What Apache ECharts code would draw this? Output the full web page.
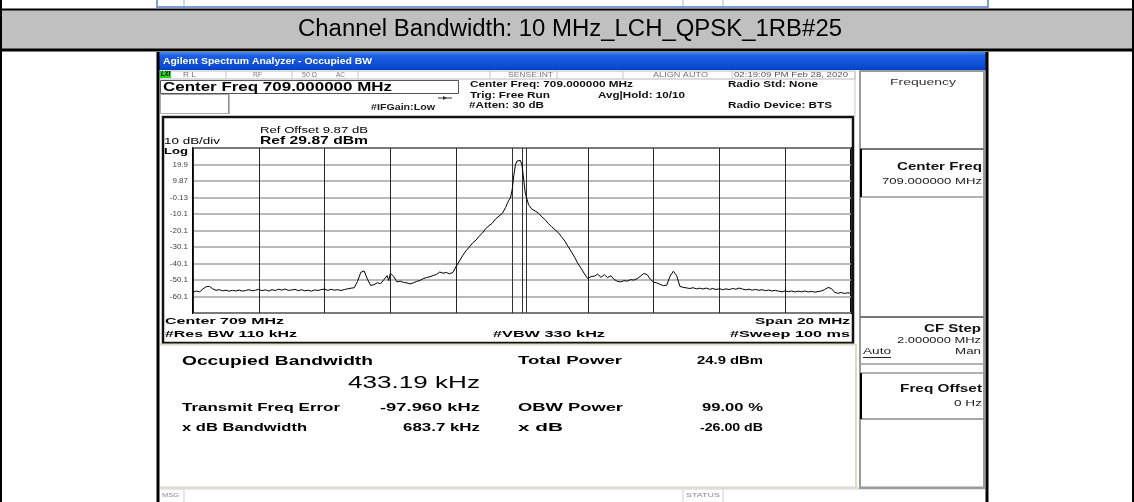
<!DOCTYPE html>
<html><head><meta charset="utf-8">
<script src="https://cdn.jsdelivr.net/npm/echarts@6/dist/echarts.min.js"></script>
<style>html,body{margin:0;padding:0;background:#fff}#c{width:1134px;height:502px}</style>
</head><body><div id="c"></div>
<script>
// ---------- data ----------
const freqMHz = [
699.0,699.1,699.2,699.3,699.4,699.5,699.6,699.7,699.8,699.9,
700.0,700.1,700.2,700.3,700.4,700.5,700.6,700.7,700.8,700.9,
701.0,701.1,701.2,701.3,701.4,701.5,701.6,701.7,701.8,701.9,
702.0,702.1,702.2,702.3,702.4,702.5,702.6,702.7,702.8,702.9,
703.0,703.1,703.2,703.3,703.4,703.5,703.6,703.7,703.8,703.9,
704.0,704.1,704.2,704.3,704.4,704.5,704.6,704.7,704.8,704.9,704.95,
705.0,705.05,705.1,705.2,705.3,705.4,705.5,705.6,705.7,705.8,705.9,
706.0,706.1,706.2,706.3,706.4,706.5,706.6,706.7,706.8,706.9,
707.0,707.1,707.2,707.3,707.4,707.5,707.6,707.7,707.8,707.9,
708.0,708.1,708.2,708.3,708.4,708.5,708.55,708.6,708.65,708.7,708.75,708.8,708.85,708.9,708.95,
709.0,709.05,709.1,709.15,709.2,709.3,709.4,709.5,709.6,709.7,709.8,709.9,
710.0,710.1,710.2,710.3,710.4,710.5,710.6,710.7,710.8,710.9,
711.0,711.1,711.2,711.3,711.4,711.5,711.6,711.7,711.8,711.9,
712.0,712.1,712.2,712.3,712.4,712.5,712.6,712.7,712.8,712.9,
713.0,713.1,713.2,713.3,713.4,713.5,713.6,713.7,713.8,713.9,
714.0,714.1,714.2,714.3,714.4,714.5,714.6,714.7,714.8,714.9,
715.0,715.1,715.2,715.3,715.4,715.5,715.6,715.7,715.8,715.9,
716.0,716.1,716.2,716.3,716.4,716.5,716.6,716.7,716.8,716.9,
717.0,717.1,717.2,717.3,717.4,717.5,717.6,717.7,717.8,717.9,
718.0,718.1,718.2,718.3,718.4,718.5,718.6,718.7,718.8,718.9,
719.0
];
const levelDbm = [
-57.5,-56.8,-57.3,-55.6,-54.2,-54.0,-55.5,-56.4,-56.0,-56.7,
-56.3,-56.9,-56.4,-56.8,-56.2,-56.9,-56.5,-56.0,-56.7,-56.3,
-55.8,-56.6,-56.1,-56.8,-56.0,-56.5,-55.7,-56.3,-55.6,-56.4,
-56.2,-55.8,-56.6,-56.0,-56.7,-56.3,-56.9,-56.1,-56.5,-55.9,
-55.7,-56.4,-55.8,-56.3,-56.0,-56.5,-55.9,-55.5,-55.1,-54.8,
-51.0,-45.5,-44.6,-49.5,-53.4,-53.0,-51.8,-52.4,-50.0,-47.5,-50.5,
-46.0,-45.2,-48.0,-51.3,-50.8,-51.6,-51.9,-52.5,-51.8,-51.0,-50.4,
-49.3,-48.6,-48.2,-47.4,-46.8,-45.3,-46.0,-45.6,-46.4,-45.5,
-41.8,-38.6,-35.2,-32.4,-30.1,-27.6,-26.0,-23.5,-21.6,-18.9,
-17.2,-15.6,-13.1,-11.4,-9.8,-6.2,-3.9,-1.8,-0.4,4.5,13.0,19.8,22.0,22.6,22.3,
19.5,11.0,2.5,-1.0,-4.5,-7.2,-8.3,-9.6,-11.8,-13.5,-15.9,-17.8,
-19.6,-21.4,-23.9,-26.5,-29.8,-33.0,-36.3,-40.2,-43.1,-46.5,
-49.3,-48.0,-47.8,-46.6,-48.5,-46.9,-48.7,-47.6,-49.8,-50.9,
-51.3,-50.5,-50.8,-49.9,-50.2,-49.3,-47.9,-46.2,-46.8,-49.6,
-51.5,-51.9,-52.8,-53.6,-53.2,-47.8,-44.8,-47.5,-54.0,-54.6,
-54.9,-55.3,-54.8,-55.5,-55.1,-55.6,-55.0,-55.8,-55.3,-55.9,
-55.4,-56.0,-55.5,-55.9,-55.3,-55.7,-55.0,-55.6,-56.1,-55.7,
-56.3,-55.8,-56.4,-56.0,-56.6,-56.2,-56.8,-56.4,-56.9,-57.3,
-56.7,-57.2,-56.8,-57.4,-56.9,-57.3,-56.8,-57.4,-57.0,-57.5,
-57.1,-56.8,-55.9,-54.7,-55.2,-57.6,-58.2,-57.7,-58.3,-57.9,
-58.2
];
const obwMarkersMHz = [708.686, 709.0, 709.119];
const yTickLabels = ['', '-60.1', '-50.1', '-40.1', '-30.1', '-20.1', '-10.1', '-0.13', '9.87', '19.9', ''];
const xMin = 699, xMax = 719, xStep = 2;
const yMin = -70.13, yMax = 29.87, yStep = 10;

// ---------- helpers for the analyzer screen decoration ----------
const E = [];
const mctx = document.createElement('canvas').getContext('2d');
const FAM = 'Liberation Sans';
function rect(x, y, w, h, fill, stroke, lw, z) {
  E.push({type:'rect', silent:true, z: z || 0, shape:{x:x, y:y, width:w, height:h},
    style:{fill: fill || 'none', stroke: stroke || 'none', lineWidth: lw || 0}});
}
function line(x1, y1, x2, y2, stroke, lw, z) {
  E.push({type:'line', silent:true, z: z || 1, shape:{x1:x1, y1:y1, x2:x2, y2:y2},
    style:{stroke: stroke, lineWidth: lw || 1}});
}
function text(x1, x2, y, s, size, opt) {
  opt = opt || {};
  const weight = opt.bold ? 'bold' : 'normal';
  const fstyle = opt.italic ? 'italic' : 'normal';
  mctx.font = fstyle + ' ' + weight + ' ' + size + 'px "' + FAM + '"';
  const w = mctx.measureText(s).width || 1;
  const sx = x2 != null ? (x2 - x1) / w : 1;
  E.push({type:'text', silent:true, z: 20, x: x1, y: y, scaleX: sx,
    style:{text: s, x: 0, y: 0, fill: opt.color || '#000', fontSize: size, fontWeight: weight,
      fontStyle: fstyle, fontFamily: FAM, align: 'left', verticalAlign: 'middle'}});
}

// page / table
rect(157, -2, 831, 9, '#fff', '#7f9ad8', 2);
line(184, 0, 184, 6, '#9fb3e0', 1);
line(683, 0, 683, 6, '#9fb3e0', 1);
line(723, 0, 723, 6, '#9fb3e0', 1);
rect(0, 10, 1134, 39, '#c0c0c0');
line(0, 9.5, 1134, 9.5, '#000', 2, 5);
line(0, 50, 1134, 50, '#000', 3, 5);
line(1, 0, 1, 502, '#000', 2, 5);
line(1133, 0, 1133, 502, '#000', 2, 5);
text(298, 842, 30, 'Channel Bandwidth: 10 MHz_LCH_QPSK_1RB#25', 23, {color:'#000'});

// analyzer window
rect(158, 52, 830, 450, '#fff');
line(158, 52, 158, 502, '#000', 3, 5);
line(987, 52, 987, 502, '#000', 3, 5);
E.push({type:'rect', silent:true, z:1, shape:{x:159, y:52, width:827, height:18},
  style:{fill: new echarts.graphic.LinearGradient(0,0,0,1,[
    {offset:0, color:'#4b8af0'}, {offset:0.2, color:'#1d5fe2'},
    {offset:0.8, color:'#0b4cd6'}, {offset:1, color:'#0a3fb8'}])}});
text(163, 372, 62, 'Agilent Spectrum Analyzer - Occupied BW', 9, {bold:true, color:'#fff'});

// status row
rect(160, 71, 695, 8, '#fff', '#b8b8b8', 1);
[226, 292, 358, 490, 557, 623, 732].forEach(function (x) { line(x, 71, x, 79, '#c4c4c4', 1); });
rect(160, 71, 11, 7, '#22d322', null, 0, 2);
text(161, 170, 74.7, 'LXI', 6.5, {bold:true, italic:true, color:'#000'});
text(183, 196, 74.7, 'R L', 7, {color:'#777'});
text(253, 262, 74.7, 'RF', 7, {color:'#777'});
text(302, 317, 74.7, '50 Ω', 7, {color:'#777'});
text(336, 345, 74.7, 'AC', 7, {color:'#777'});
text(508, 553, 74.7, 'SENSE:INT', 7, {color:'#777'});
text(653, 708, 74.7, 'ALIGN AUTO', 7, {color:'#777'});
text(734, 848, 74.7, '02:19:09 PM Feb 28, 2020', 7, {color:'#555'});
line(855, 71, 855, 116, '#c8c8c8', 1);

// header boxes
rect(160.5, 80.5, 298, 13, '#fff', '#555', 1);
text(163, 392, 87.2, 'Center Freq 709.000000 MHz', 12, {bold:true});
rect(160.5, 94.5, 68, 19, '#fff', '#aaa', 1);
line(229, 94, 229, 114, '#777', 1);
text(371, 435, 108, '#IFGain:Low', 8.5, {bold:true, color:'#222'});
line(438, 98, 452, 98, '#333', 1);
E.push({type:'polygon', silent:true, z:3, shape:{points:[[443,96],[447,98],[443,100]]}, style:{fill:'#333'}});
text(470, 633, 85, 'Center Freq: 709.000000 MHz', 8.5, {bold:true, color:'#111'});
text(470, 550, 95.5, 'Trig: Free Run', 8.5, {bold:true, color:'#111'});
text(469, 544, 106, '#Atten: 30 dB', 8.5, {bold:true, color:'#111'});
text(598, 685, 95.5, 'Avg|Hold: 10/10', 8.5, {bold:true, color:'#111'});
text(728, 818, 85, 'Radio Std: None', 8.5, {bold:true, color:'#111'});
text(728, 832, 106, 'Radio Device: BTS', 8.5, {bold:true, color:'#111'});

// graph frame
rect(163, 117, 690, 226, '#fff', '#111', 2.5, 1);
text(260, 368, 130.5, 'Ref Offset 9.87 dB', 8.5, {color:'#000'});
text(260, 368, 141, 'Ref 29.87 dBm', 10, {bold:true});
text(164, 220, 141.5, '10 dB/div', 9, {});
text(164, 188, 151.5, 'Log', 9.5, {bold:true});
text(165, 284, 321, 'Center 709 MHz', 9.5, {bold:true});
text(165, 297, 334, '#Res BW 110 kHz', 9.5, {bold:true});
text(493, 605, 334, '#VBW 330 kHz', 9.5, {bold:true});
text(755, 850, 321, 'Span 20 MHz', 9.5, {bold:true});
text(730, 850, 334, '#Sweep 100 ms', 9.5, {bold:true});

// measurement area
line(160, 344.5, 855, 344.5, '#e2dcc6', 2);
line(856, 344, 856, 488, '#e2dcc6', 2);
line(160, 487.5, 858, 487.5, '#e2dcc6', 2);
text(182, 373, 362, 'Occupied Bandwidth', 12.5, {bold:true});
text(348, 480, 383, '433.19 kHz', 16.5, {});
text(182, 340, 408, 'Transmit Freq Error', 11, {bold:true});
text(380, 480, 408, '-97.960 kHz', 11, {bold:true});
text(182, 307, 428, 'x dB Bandwidth', 11, {bold:true});
text(403, 480, 428, '683.7 kHz', 11, {bold:true});
text(518, 622, 361, 'Total Power', 11, {bold:true});
text(697, 763, 361, '24.9 dBm', 11, {bold:true});
text(518, 623, 408, 'OBW Power', 11, {bold:true});
text(702, 763, 408, '99.00 %', 11, {bold:true});
text(518, 563, 428, 'x dB', 11, {bold:true});
text(700, 763, 428, '-26.00 dB', 11, {bold:true});

// message bar
line(160, 489, 985, 489, '#cfcfcf', 1);
line(184, 489, 184, 502, '#cfcfcf', 1);
line(683, 489, 683, 502, '#cfcfcf', 1);
line(723, 489, 723, 502, '#cfcfcf', 1);
text(162, 179, 495, 'MSG', 6, {color:'#888'});
text(686, 720, 495, 'STATUS', 6, {color:'#888'});

// soft keys
rect(860, 71, 124, 417, '#fff', '#9a9a9a', 2, 1);
text(890, 956, 82, 'Frequency', 9.5, {color:'#333'});
line(860, 149, 984, 149, '#777', 2, 2);
line(860, 197, 984, 197, '#999', 1.5, 2);
line(861, 149, 861, 197, '#000', 2, 3);
text(897, 982, 167, 'Center Freq', 10.5, {bold:true, color:'#111'});
text(882, 982, 182, '709.000000 MHz', 9, {color:'#222'});
line(860, 317, 984, 317, '#777', 2, 2);
line(860, 364, 984, 364, '#999', 1.5, 2);
line(860, 373, 984, 373, '#999', 1.5, 2);
text(924, 981, 329, 'CF Step', 10.5, {bold:true, color:'#111'});
text(897, 981, 341, '2.000000 MHz', 9, {color:'#222'});
text(863, 891, 352, 'Auto', 9, {color:'#222'});
line(863, 357.5, 891, 357.5, '#222', 1, 3);
text(955, 981, 352, 'Man', 9, {color:'#222'});
line(861, 373, 861, 419, '#000', 2, 3);
text(900, 982, 389, 'Freq Offset', 10.5, {bold:true, color:'#111'});
text(954, 982, 404, '0 Hz', 9, {color:'#222'});
line(860, 419, 984, 419, '#888', 1.5, 2);
line(860, 487.5, 984, 487.5, '#9a9a9a', 2, 2);

// ---------- chart ----------
const trace = freqMHz.map(function (f, i) { return [f, levelDbm[i]]; });
const chart = echarts.init(document.getElementById('c'), null, {renderer:'canvas'});
chart.setOption({
  animation: false,
  backgroundColor: '#fff',
  graphic: {elements: E},
  grid: {left:193, top:148, width:658, height:165, show:true, borderColor:'#000', borderWidth:2,
    backgroundColor:'#fff', z: 3},
  xAxis: {type:'value', min:xMin, max:xMax, interval:xStep,
    axisLine:{show:false}, axisTick:{show:false}, axisLabel:{show:false},
    splitLine:{show:true, lineStyle:{color:'#262626', width:1}}, z: 3},
  yAxis: {type:'value', min:yMin, max:yMax, interval:yStep,
    axisLine:{show:false}, axisTick:{show:false},
    axisLabel:{show:true, margin:5, fontSize:8, color:'#444', fontFamily:FAM,
      formatter: function (v) { const k = Math.round((v - yMin) / yStep); return yTickLabels[k] || ''; }},
    splitLine:{show:true, lineStyle:{color:'#a3a3a3', width:1.6}}, z: 3},
  series: [{
    type:'line', data: trace, showSymbol:false, symbol:'none', z: 5,
    lineStyle:{color:'#000', width:1}, silent:true,
    markLine:{silent:true, symbol:['none','none'], label:{show:false},
      lineStyle:{color:'#333', width:1, type:'solid'},
      data: obwMarkersMHz.map(function (f) { return {xAxis: f}; })}
  }]
});
</script>
</body></html>
